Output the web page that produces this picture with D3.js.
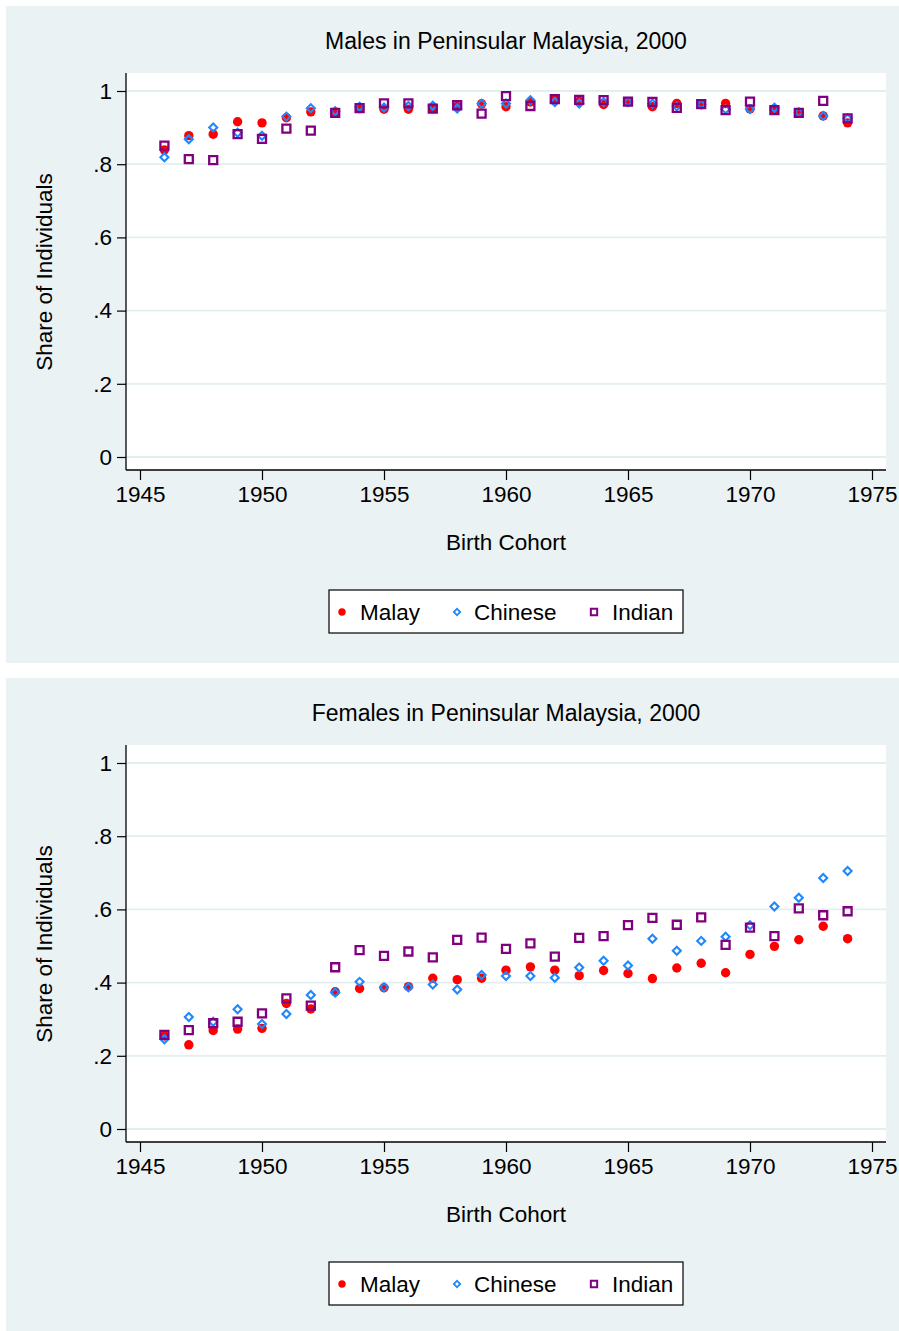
<!DOCTYPE html>
<html>
<head>
<meta charset="utf-8">
<script src="https://cdn.jsdelivr.net/npm/d3@7"></script>
<style>
  body { margin: 0; background: #fff; }
  text { font-family: "Liberation Sans", Arial, sans-serif; fill: #000; }
</style>
</head>
<body>
<script>
// birth cohorts on the x axis
var cohorts = [1946, 1947, 1948, 1949, 1950, 1951, 1952, 1953, 1954, 1955,
               1956, 1957, 1958, 1959, 1960, 1961, 1962, 1963, 1964, 1965,
               1966, 1967, 1968, 1969, 1970, 1971, 1972, 1973, 1974];

// males, share of individuals
var malesMalay   = [0.839, 0.878, 0.882, 0.916, 0.913, 0.927, 0.943, 0.941, 0.952, 0.950,
                    0.950, 0.952, 0.957, 0.965, 0.957, 0.970, 0.977, 0.972, 0.963, 0.971,
                    0.957, 0.966, 0.965, 0.966, 0.951, 0.948, 0.940, 0.932, 0.913];
var malesChinese = [0.819, 0.868, 0.900, 0.886, 0.878, 0.930, 0.953, 0.945, 0.957, 0.955,
                    0.959, 0.960, 0.952, 0.965, 0.966, 0.975, 0.970, 0.966, 0.970, 0.970,
                    0.965, 0.958, 0.963, 0.950, 0.951, 0.954, 0.942, 0.932, 0.925];
var malesIndian  = [0.851, 0.814, 0.811, 0.882, 0.869, 0.897, 0.892, 0.940, 0.953, 0.966,
                    0.966, 0.952, 0.961, 0.938, 0.986, 0.959, 0.978, 0.976, 0.975, 0.971,
                    0.970, 0.954, 0.964, 0.948, 0.971, 0.948, 0.940, 0.973, 0.925];

// females, share of individuals
var femalesMalay   = [0.254, 0.230, 0.269, 0.273, 0.275, 0.343, 0.328, 0.375, 0.384, 0.386,
                      0.389, 0.412, 0.408, 0.412, 0.434, 0.443, 0.434, 0.419, 0.433, 0.425,
                      0.411, 0.440, 0.453, 0.427, 0.477, 0.499, 0.517, 0.554, 0.520];
var femalesChinese = [0.245, 0.306, 0.293, 0.327, 0.287, 0.314, 0.366, 0.373, 0.402, 0.387,
                      0.387, 0.395, 0.381, 0.421, 0.418, 0.418, 0.413, 0.441, 0.460, 0.447,
                      0.520, 0.487, 0.514, 0.525, 0.557, 0.608, 0.632, 0.686, 0.705];
var femalesIndian  = [0.257, 0.270, 0.289, 0.293, 0.316, 0.357, 0.337, 0.442, 0.489, 0.473,
                      0.485, 0.469, 0.517, 0.523, 0.492, 0.507, 0.471, 0.522, 0.527, 0.557,
                      0.577, 0.558, 0.578, 0.503, 0.550, 0.527, 0.603, 0.584, 0.595];

var groups = ["Malay", "Chinese", "Indian"];
var xTicks = [1945, 1950, 1955, 1960, 1965, 1970, 1975];
var yTicks = [0, 0.2, 0.4, 0.6, 0.8, 1];
var yTickLabels = ["0", ".2", ".4", ".6", ".8", "1"];

var panels = [
  { title: "Males in Peninsular Malaysia, 2000", series: [malesMalay, malesChinese, malesIndian] },
  { title: "Females in Peninsular Malaysia, 2000", series: [femalesMalay, femalesChinese, femalesIndian] }
];

var bg = "#eaf2f3";
var colors = { Malay: "#ff0000", Chinese: "#1e88ff", Indian: "#800080" };

function myfunc(){
    var svg = d3.select("body")
        .append("svg")
        .attr("width", 899)
        .attr("height", 1331);

    // plot geometry (relative to each panel)
    var plotLeft = 126, plotRight = 886, plotTop = 73, plotBottom = 470;

    var x = d3.scaleLinear()
        .domain([1945, 1975])
        .range([140, 872]);
    var y = d3.scaleLinear()
        .domain([0, 1])
        .range([457, 91]);

    var diamond = d3.symbol().type(d3.symbolSquare).size(32);
    var square = d3.symbol().type(d3.symbolSquare).size(64);

    panels.forEach(function(p, pi){
        var g = svg.append("g")
            .attr("transform", "translate(0," + (pi * 672) + ")");

        // outer background
        g.append("rect")
            .attr("x", 6).attr("y", 6)
            .attr("width", 893).attr("height", pi == 0 ? 657 : 653)
            .attr("fill", bg);

        // plot region
        g.append("rect")
            .attr("x", plotLeft).attr("y", plotTop)
            .attr("width", plotRight - plotLeft).attr("height", plotBottom - plotTop)
            .attr("fill", "#fff");

        // gridlines
        g.selectAll(".grid")
            .data(yTicks)
            .enter()
            .append("line")
            .attr("x1", plotLeft).attr("x2", plotRight)
            .attr("y1", function(d){ return y(d); })
            .attr("y2", function(d){ return y(d); })
            .attr("stroke", "#e3eef0")
            .attr("stroke-width", 1.8);

        // y axis
        var yAxis = d3.axisLeft(y)
            .tickValues(yTicks)
            .tickSize(9)
            .tickPadding(5)
            .tickFormat(function(d, i){ return yTickLabels[i]; });
        var ya = g.append("g")
            .attr("transform", "translate(" + plotLeft + ",0)")
            .call(yAxis);
        ya.select(".domain").remove();
        ya.append("line")
            .attr("x1", 0).attr("x2", 0)
            .attr("y1", plotTop).attr("y2", plotBottom)
            .attr("stroke", "#000").attr("stroke-width", 1.3);

        // x axis
        var xAxis = d3.axisBottom(x)
            .tickValues(xTicks)
            .tickSize(10)
            .tickPadding(6)
            .tickFormat(d3.format("d"));
        var xa = g.append("g")
            .attr("transform", "translate(0," + plotBottom + ")")
            .call(xAxis);
        xa.select(".domain").remove();
        xa.append("line")
            .attr("x1", plotLeft).attr("x2", plotRight)
            .attr("y1", 0).attr("y2", 0)
            .attr("stroke", "#000").attr("stroke-width", 1.3);

        g.selectAll(".tick line").attr("stroke", "#000").attr("stroke-width", 1.2);
        g.selectAll(".tick text")
            .style("font-family", "'Liberation Sans', Arial, sans-serif")
            .style("font-size", "22.5px")
            .attr("fill", "#000");

        // titles
        g.append("text")
            .attr("x", 506).attr("y", 49)
            .attr("text-anchor", "middle")
            .style("font-size", "23px")
            .text(p.title);
        g.append("text")
            .attr("x", 506).attr("y", 550)
            .attr("text-anchor", "middle")
            .style("font-size", "22.5px")
            .text("Birth Cohort");
        g.append("text")
            .attr("transform", "translate(52,272) rotate(-90)")
            .attr("text-anchor", "middle")
            .style("font-size", "22.5px")
            .text("Share of Individuals");

        // markers
        var malay = g.selectAll(".malay")
            .data(p.series[0])
            .enter()
            .append("circle")
            .attr("class", "malay")
            .attr("cx", function(d, i){ return x(cohorts[i]); })
            .attr("cy", function(d){ return y(d); })
            .attr("r", 4.7)
            .attr("fill", colors.Malay);

        var chinese = g.selectAll(".chinese")
            .data(p.series[1])
            .enter()
            .append("path")
            .attr("class", "chinese")
            .attr("d", diamond)
            .attr("transform", function(d, i){
                return "translate(" + x(cohorts[i]) + "," + y(d) + ") rotate(45)";
            })
            .attr("fill", "none")
            .attr("stroke", colors.Chinese)
            .attr("stroke-width", 2.1);

        var indian = g.selectAll(".indian")
            .data(p.series[2])
            .enter()
            .append("path")
            .attr("class", "indian")
            .attr("d", square)
            .attr("transform", function(d, i){
                return "translate(" + x(cohorts[i]) + "," + y(d) + ")";
            })
            .attr("fill", "none")
            .attr("stroke", colors.Indian)
            .attr("stroke-width", 2.3);

        // legend
        var lg = g.append("g").attr("transform", "translate(329,590)");
        lg.append("rect")
            .attr("x", 0).attr("y", 0)
            .attr("width", 354).attr("height", 43)
            .attr("fill", "#fff")
            .attr("stroke", "#000")
            .attr("stroke-width", 1.2);
        var keyX = [13, 128, 265];
        var labX = [31, 145, 283];
        lg.append("circle")
            .attr("cx", keyX[0]).attr("cy", 22).attr("r", 3.7)
            .attr("fill", colors.Malay);
        lg.append("path")
            .attr("d", d3.symbol().type(d3.symbolSquare).size(20)())
            .attr("transform", "translate(" + keyX[1] + ",22) rotate(45)")
            .attr("fill", "none").attr("stroke", colors.Chinese).attr("stroke-width", 1.8);
        lg.append("path")
            .attr("d", d3.symbol().type(d3.symbolSquare).size(40)())
            .attr("transform", "translate(" + keyX[2] + ",22)")
            .attr("fill", "none").attr("stroke", colors.Indian).attr("stroke-width", 2);
        lg.selectAll(".legtext")
            .data(groups)
            .enter()
            .append("text")
            .attr("class", "legtext")
            .attr("x", function(d, i){ return labX[i]; })
            .attr("y", 30)
            .style("font-size", "22.5px")
            .text(function(d){ return d; });
    });
}

window.onload = myfunc();
</script>
</body>
</html>
